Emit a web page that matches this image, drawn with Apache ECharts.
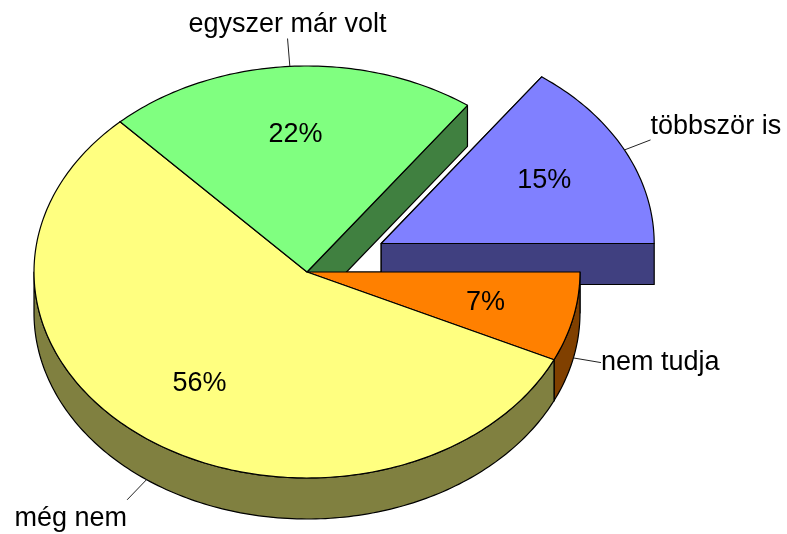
<!DOCTYPE html>
<html>
<head>
  <meta charset="utf-8">
  <title>ECharts</title>
  <script src="https://cdn.jsdelivr.net/npm/echarts@6/dist/echarts.min.js"></script>
</head>
<body style="margin:0;background:#fff;">
<div id="main" style="width: 787px;height:534px;"></div>
<script type="text/javascript">
  // slices, clockwise from 3 o'clock
  var categories = ['nem tudja', 'még nem', 'egyszer már volt', 'többször is'];
  var values = [7, 56, 22, 15];

  var topColors = ['#FF8000', '#FFFF80', '#80FF80', '#8080FF'];
  var sideColors = ['#804000', '#808040', '#408040', '#404080'];
  var explodeName = 'többször is';

  // pie geometry (tilted ellipse + wall thickness)
  var cx = 307, cy = 272, rx = 273, ry = 206, depth = 41;
  var font = '27px "Liberation Sans", Arial, sans-serif';

  var total = values.reduce(function (s, v) { return s + v; }, 0);
  var starts = [];
  var acc = 0;
  values.forEach(function (v) { starts.push(acc / total * 360); acc += v; });

  function renderItem(params, api) {
    var i = params.dataIndex;
    var v = api.value(0);
    var a0 = starts[i];
    var a1 = a0 + v / total * 360;
    var midDeg = (a0 + a1) / 2;
    var mid = midDeg * Math.PI / 180;
    var k = categories[i] === explodeName ? 0.305 : 0;
    var ox = cx + Math.cos(mid) * rx * k;
    var oy = cy + Math.sin(mid) * ry * k;

    function pt(deg, dy) {
      var r = deg * Math.PI / 180;
      return [ox + Math.cos(r) * rx, oy + Math.sin(r) * ry + (dy || 0)];
    }
    function arc(d0, d1, dy) {
      var pts = [];
      var n = Math.max(2, Math.ceil(Math.abs(d1 - d0)));
      for (var j = 0; j <= n; j++) pts.push(pt(d0 + (d1 - d0) * j / n, dy));
      return pts;
    }

    var line = { stroke: '#000', lineWidth: 1.2, lineJoin: 'round' };
    var children = [];

    // radial walls
    [a0, a1].forEach(function (a) {
      var p = pt(a);
      children.push({
        type: 'polygon', z2: 1,
        shape: { points: [[ox, oy], p, [p[0], p[1] + depth], [ox, oy + depth]] },
        style: Object.assign({ fill: sideColors[i] }, line)
      });
    });

    // front side of the rim
    var b0 = Math.max(a0, 0), b1 = Math.min(a1, 180);
    if (b1 > b0) {
      children.push({
        type: 'polygon', z2: 2,
        shape: { points: arc(b0, b1, 0).concat(arc(b1, b0, depth)) },
        style: Object.assign({ fill: sideColors[i] }, line)
      });
    }

    // top face
    children.push({
      type: 'polygon', z2: 3,
      shape: { points: [[ox, oy]].concat(arc(a0, a1, 0)) },
      style: Object.assign({ fill: topColors[i] }, line)
    });

    // percent label
    var c = Math.cos(mid), s = Math.sin(mid);
    children.push({
      type: 'text', z2: 10,
      x: ox + c * rx * 0.67, y: oy + s * ry * 0.67,
      style: {
        text: Math.round(v / total * 100) + '%',
        font: font, fill: '#000', align: 'center', verticalAlign: 'middle'
      }
    });

    // leader + name
    var A = pt(midDeg, s > 0 ? depth : 0);
    var ux = c * rx, uy = s * ry;
    var len = Math.sqrt(ux * ux + uy * uy);
    var E = [A[0] + ux / len * 28, A[1] + uy / len * 28];
    children.push({
      type: 'line', z2: 10,
      shape: { x1: A[0], y1: A[1], x2: E[0], y2: E[1] },
      style: { stroke: '#222', lineWidth: 1 }
    });
    var vAlign = s < -0.3 ? 'bottom' : (s > 0.3 ? 'top' : 'middle');
    children.push({
      type: 'text', z2: 10,
      x: E[0], y: E[1] + (vAlign === 'top' ? 5 : 0),
      style: {
        text: categories[i], font: font, fill: '#000',
        align: c > 0.1 ? 'left' : (c < -0.1 ? 'right' : 'center'),
        verticalAlign: vAlign
      }
    });

    return { type: 'group', children: children };
  }

  var myChart = echarts.init(document.getElementById('main'));
  var option = {
    animation: false,
    series: [{
      type: 'custom',
      coordinateSystem: 'none',
      renderItem: renderItem,
      data: values.map(function (v, i) { return { name: categories[i], value: [v] }; })
    }]
  };
  myChart.setOption(option);
</script>
</body>
</html>
